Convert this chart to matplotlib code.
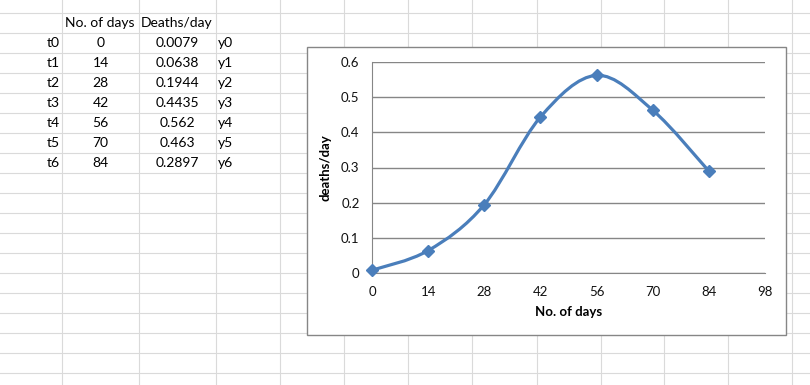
import numpy as np
import matplotlib.pyplot as plt
from matplotlib.path import Path
from matplotlib.patches import PathPatch, Rectangle
from matplotlib.lines import Line2D

# data from the sheet
t_labels = ['t0', 't1', 't2', 't3', 't4', 't5', 't6']
y_labels = ['y0', 'y1', 'y2', 'y3', 'y4', 'y5', 'y6']
days = [0, 14, 28, 42, 56, 70, 84]
deaths = [0.0079, 0.0638, 0.1944, 0.4435, 0.562, 0.463, 0.2897]
deaths_txt = ['0.0079', '0.0638', '0.1944', '0.4435', '0.562', '0.463', '0.2897']

W, H = 810, 385
plt.rcParams['font.family'] = ['Lato', 'DejaVu Sans']
fig = plt.figure(figsize=(W / 100, H / 100), dpi=100)
fig.patch.set_facecolor('white')


def fx(px):
    return px / W


def fy(py):
    return 1 - py / H


# spreadsheet grid
grid_c = '#dadada'
for gx in [62, 139, 216, 280, 344, 408, 472, 537, 601, 664, 728, 792]:
    fig.add_artist(Line2D([fx(gx), fx(gx)], [0, 1], color=grid_c, lw=0.8, zorder=0))
for gy in range(13, H, 20):
    fig.add_artist(Line2D([0, 1], [fy(gy), fy(gy)], color=grid_c, lw=0.8, zorder=0))

# cell text
cell_fs = 10
fig.text(fx(65), fy(23), 'No. of days', ha='left', va='center', fontsize=cell_fs)
fig.text(fx(141), fy(23), 'Deaths/day', ha='left', va='center', fontsize=cell_fs)
for i in range(len(days)):
    yy = fy(43 + 20 * i)
    fig.text(fx(60), yy, t_labels[i], ha='right', va='center', fontsize=cell_fs)
    fig.text(fx(100.5), yy, str(days[i]), ha='center', va='center', fontsize=cell_fs)
    fig.text(fx(177.5), yy, deaths_txt[i], ha='center', va='center', fontsize=cell_fs)
    fig.text(fx(218), yy, y_labels[i], ha='left', va='center', fontsize=cell_fs)

# chart frame
fig.add_artist(Rectangle((fx(307), fy(335)), fx(786) - fx(307), fy(47) - fy(335),
                         facecolor='white', edgecolor='#868686', lw=1.0, zorder=1))

ax = fig.add_axes([fx(372), fy(273), fx(765) - fx(372), fy(62) - fy(273)])
ax.set_zorder(2)
ax.set_facecolor('none')
ax.set_xlim(0, 98)
ax.set_ylim(0, 0.6)
ax.set_xticks(np.arange(0, 99, 14))
ax.set_yticks(np.arange(0, 0.61, 0.1))
ax.set_yticklabels(['0', '0.1', '0.2', '0.3', '0.4', '0.5', '0.6'])
ax.grid(axis='y', color='#868686', lw=1.0)
ax.set_axisbelow(True)
for s in ['top', 'right']:
    ax.spines[s].set_visible(False)
for s in ['left', 'bottom']:
    ax.spines[s].set_color('#868686')
ax.tick_params(length=0, labelsize=9.5, colors='#111111')
ax.tick_params(axis='x', pad=9)
ax.tick_params(axis='y', pad=9)
ax.set_xlabel('No. of days', fontsize=9.5, fontweight='bold', labelpad=6)
ax.set_ylabel('deaths/day', fontsize=9.5, fontweight='bold', labelpad=7)

# smoothed line like excel (bezier through the points)
pts = np.column_stack([days, deaths])
verts = [tuple(pts[0])]
codes = [Path.MOVETO]
n = len(pts)
for i in range(n - 1):
    p0 = pts[max(i - 1, 0)]
    p1 = pts[i]
    p2 = pts[i + 1]
    p3 = pts[min(i + 2, n - 1)]
    c1 = p1 + (p2 - p0) / 6
    c2 = p2 - (p3 - p1) / 6
    verts += [tuple(c1), tuple(c2), tuple(p2)]
    codes += [Path.CURVE4] * 3
ax.add_patch(PathPatch(Path(verts, codes), fill=False, edgecolor='#4a7ebb',
                       lw=2.3, capstyle='round', clip_on=False, zorder=3))
ax.plot(days, deaths, ls='none', marker='D', ms=6, color='#4a7ebb', zorder=4, clip_on=False)

fig.savefig('out.png', dpi=100)
